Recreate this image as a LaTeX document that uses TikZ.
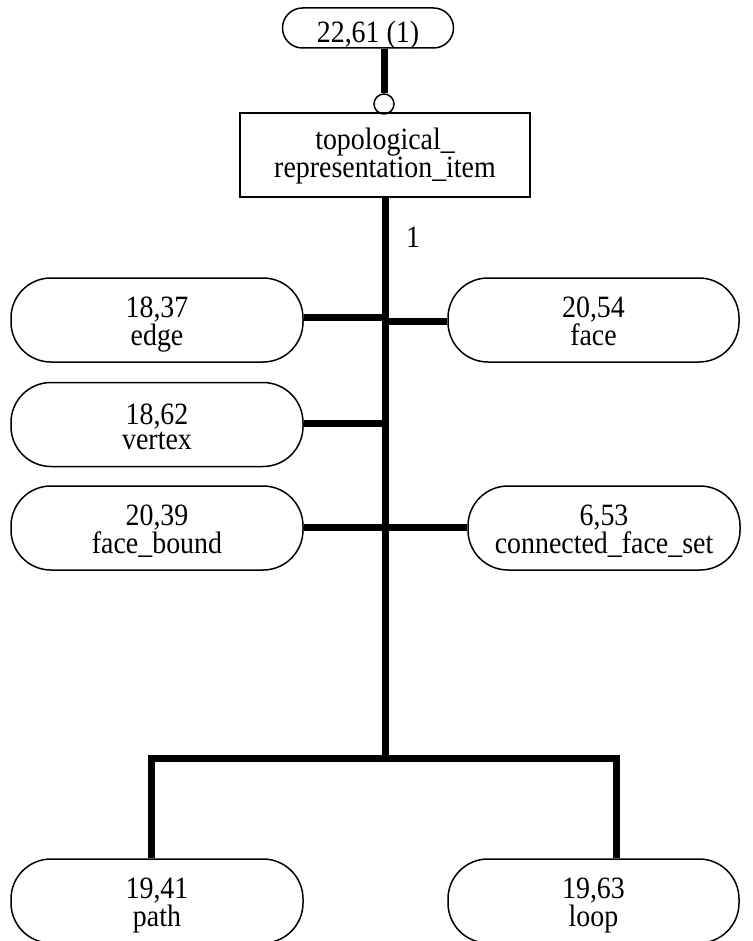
\documentclass[tikz,border=0pt]{standalone}
\usepackage{fontspec}
\setmainfont[FakeStretch=0.9]{Liberation Serif}
\begin{document}
\begin{tikzpicture}[x=1pt,y=-1pt,
  txt/.style={font=\fontsize{31}{25}\selectfont},
  pill/.style={draw,line width=1.5pt,rounded corners=40pt,minimum width=292pt,minimum height=84pt,inner sep=0pt,align=center,txt,text height=55pt,text depth=5pt},
  thk/.style={line width=7pt},
]
\useasboundingbox (0,0) rectangle (752,941);
% top
\node[draw,line width=1.5pt,rounded corners=20pt,minimum width=171pt,minimum height=40pt,inner sep=0pt,txt,text height=31pt,text depth=2pt] (top) at (368,28) {22,61 (1)};
\node[draw,circle,line width=1.5pt,minimum size=20pt,inner sep=0pt,fill=white] (circ) at (384,104) {};
\node[draw,line width=1.5pt,minimum width=290pt,minimum height=84pt,inner sep=0pt,align=center,txt,text height=51pt,text depth=5pt] (tri) at (385,155) {topological\_\\representation\_item};
\draw[thk] (top.south -| circ.north) -- (circ.north);
\coordinate (bar) at (385,758);
\draw[thk] (tri.south) -- (bar);
\node[txt] (one) at (413,237) {1};
% pills
\node[pill] (edge) at (157,320) {18,37\\edge};
\node[pill,minimum width=291pt] (face) at (593.5,320) {20,54\\face};
\node[pill] (vertex) at (157,424.5) {18,62\\vertex};
\node[pill] (fb) at (157,528) {20,39\\face\_bound};
\node[pill,minimum width=272pt] (cfs) at (604,528) {6,53\\connected\_face\_set};
\node[pill] (path) at (157,901) {19,41\\path};
\node[pill,minimum width=291pt] (loop) at (593.5,901) {19,63\\loop};
% connectors
\draw[thk] ([yshift=3pt]edge.east) -- ([yshift=3pt]edge.east -| bar);
\draw[thk] ([yshift=-1pt]face.west) -- ([yshift=-1pt]face.west -| bar);
\draw[thk] ([yshift=1pt]vertex.east) -- ([yshift=1pt]vertex.east -| bar);
\draw[thk] ([yshift=1pt]fb.east) -- ([yshift=1pt]fb.east -| bar);
\draw[thk] ([yshift=1pt]cfs.west) -- ([yshift=1pt]cfs.west -| bar);
\coordinate (bl) at (151,758);
\coordinate (br) at (616,758);
\draw[thk,line join=miter] ([xshift=-6pt]path.north) -- (bl) -- (br) -- ([xshift=22.5pt]loop.north);
\end{tikzpicture}
\end{document}
